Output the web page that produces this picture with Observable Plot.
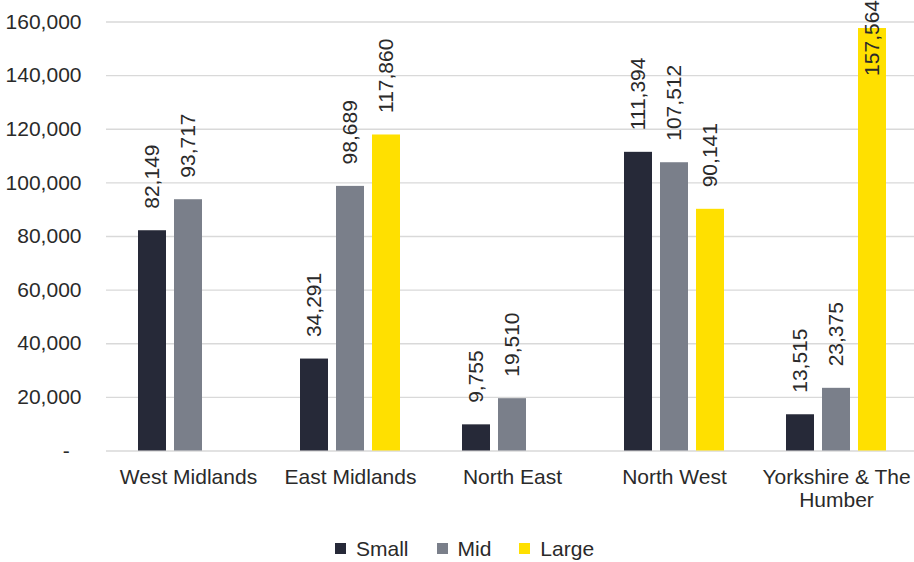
<!DOCTYPE html>
<html>
<head>
<meta charset="utf-8">
<script src="https://cdn.jsdelivr.net/npm/d3@7"></script>
<script src="https://cdn.jsdelivr.net/npm/@observablehq/plot@0.6"></script>
<style>
  html, body { margin: 0; padding: 0; background: #fff; }
  #wrap { position: relative; width: 914px; height: 562px; font-family: "Liberation Sans", Arial, sans-serif; color: #2a2a2a; }
  #legend { position: absolute; left: 335px; top: 538px; display: flex; align-items: center; gap: 28px; font-size: 21px; line-height: 21px; }
  .item { display: flex; align-items: center; gap: 10px; }
  .sw { width: 11px; height: 11px; display: inline-block; }
</style>
</head>
<body>
<div id="wrap">
  <div id="chart"></div>
  <div id="legend"></div>
</div>
<script>
const regions = ["West Midlands", "East Midlands", "North East", "North West", "Yorkshire & The Humber"];
const series = ["Small", "Mid", "Large"];
const smallValues = [82149, 34291, 9755, 111394, 13515];
const midValues = [93717, 98689, 19510, 107512, 23375];
const largeValues = [null, 117860, null, 90141, 157564];
const yTicks = [0, 20000, 40000, 60000, 80000, 100000, 120000, 140000, 160000];

const colors = {Small: "#262938", Mid: "#7a7f8a", Large: "#ffe000"};
const seriesOffset = {Small: -36, Mid: 0, Large: 36};
const textColor = "#2a2a2a";
const labelCap = 131700; // keeps the tallest label inside the chart area

const valuesBySeries = {Small: smallValues, Mid: midValues, Large: largeValues};
const rows = [];
series.forEach(s => regions.forEach((r, i) => {
  const v = valuesBySeries[s][i];
  if (v != null) rows.push({region: r, series: s, value: v});
}));

const fmt = d3.format(",");
const marks = [
  Plot.ruleY(yTicks, {stroke: "#d9d9d9", strokeWidth: 1.3}),
  Plot.axisY({ticks: yTicks, tickFormat: d => d === 0 ? "-\u00a0\u00a0" : fmt(d), tickSize: 0, tickPadding: 25, label: null, fontSize: 21}),
  Plot.axisX({tickSize: 0, tickPadding: 16.5, label: null, fontSize: 21, lineHeight: 1.11,
    tickFormat: d => d === "Yorkshire & The Humber" ? "Yorkshire & The\nHumber" : d})
];
series.forEach(s => {
  const data = rows.filter(d => d.series === s);
  marks.push(Plot.barY(data, {x: "region", y: "value", fill: colors[s], insetLeft: 67, insetRight: 67, dx: seriesOffset[s]}));
  marks.push(Plot.text(data, {x: "region", y: d => Math.min(d.value, labelCap), text: d => fmt(d.value),
    rotate: -90, textAnchor: "start", dy: -22, dx: seriesOffset[s], fontSize: 21, fill: textColor}));
});

const chart = Plot.plot({
  width: 914,
  height: 520,
  marginTop: 21.5,
  marginBottom: 69.5,
  marginLeft: 106,
  marginRight: 0,
  style: {fontFamily: "Liberation Sans, Arial, sans-serif", fontSize: "21px", color: textColor, background: "white"},
  x: {domain: regions, range: [105.75, 918.25], padding: 0},
  y: {domain: [0, 160000]},
  marks
});
document.getElementById("chart").appendChild(chart);

const legend = document.getElementById("legend");
series.forEach(s => {
  const item = document.createElement("div");
  item.className = "item";
  const sw = document.createElement("span");
  sw.className = "sw";
  sw.style.background = colors[s];
  const t = document.createElement("span");
  t.textContent = s;
  item.appendChild(sw);
  item.appendChild(t);
  legend.appendChild(item);
});
</script>
</body>
</html>
